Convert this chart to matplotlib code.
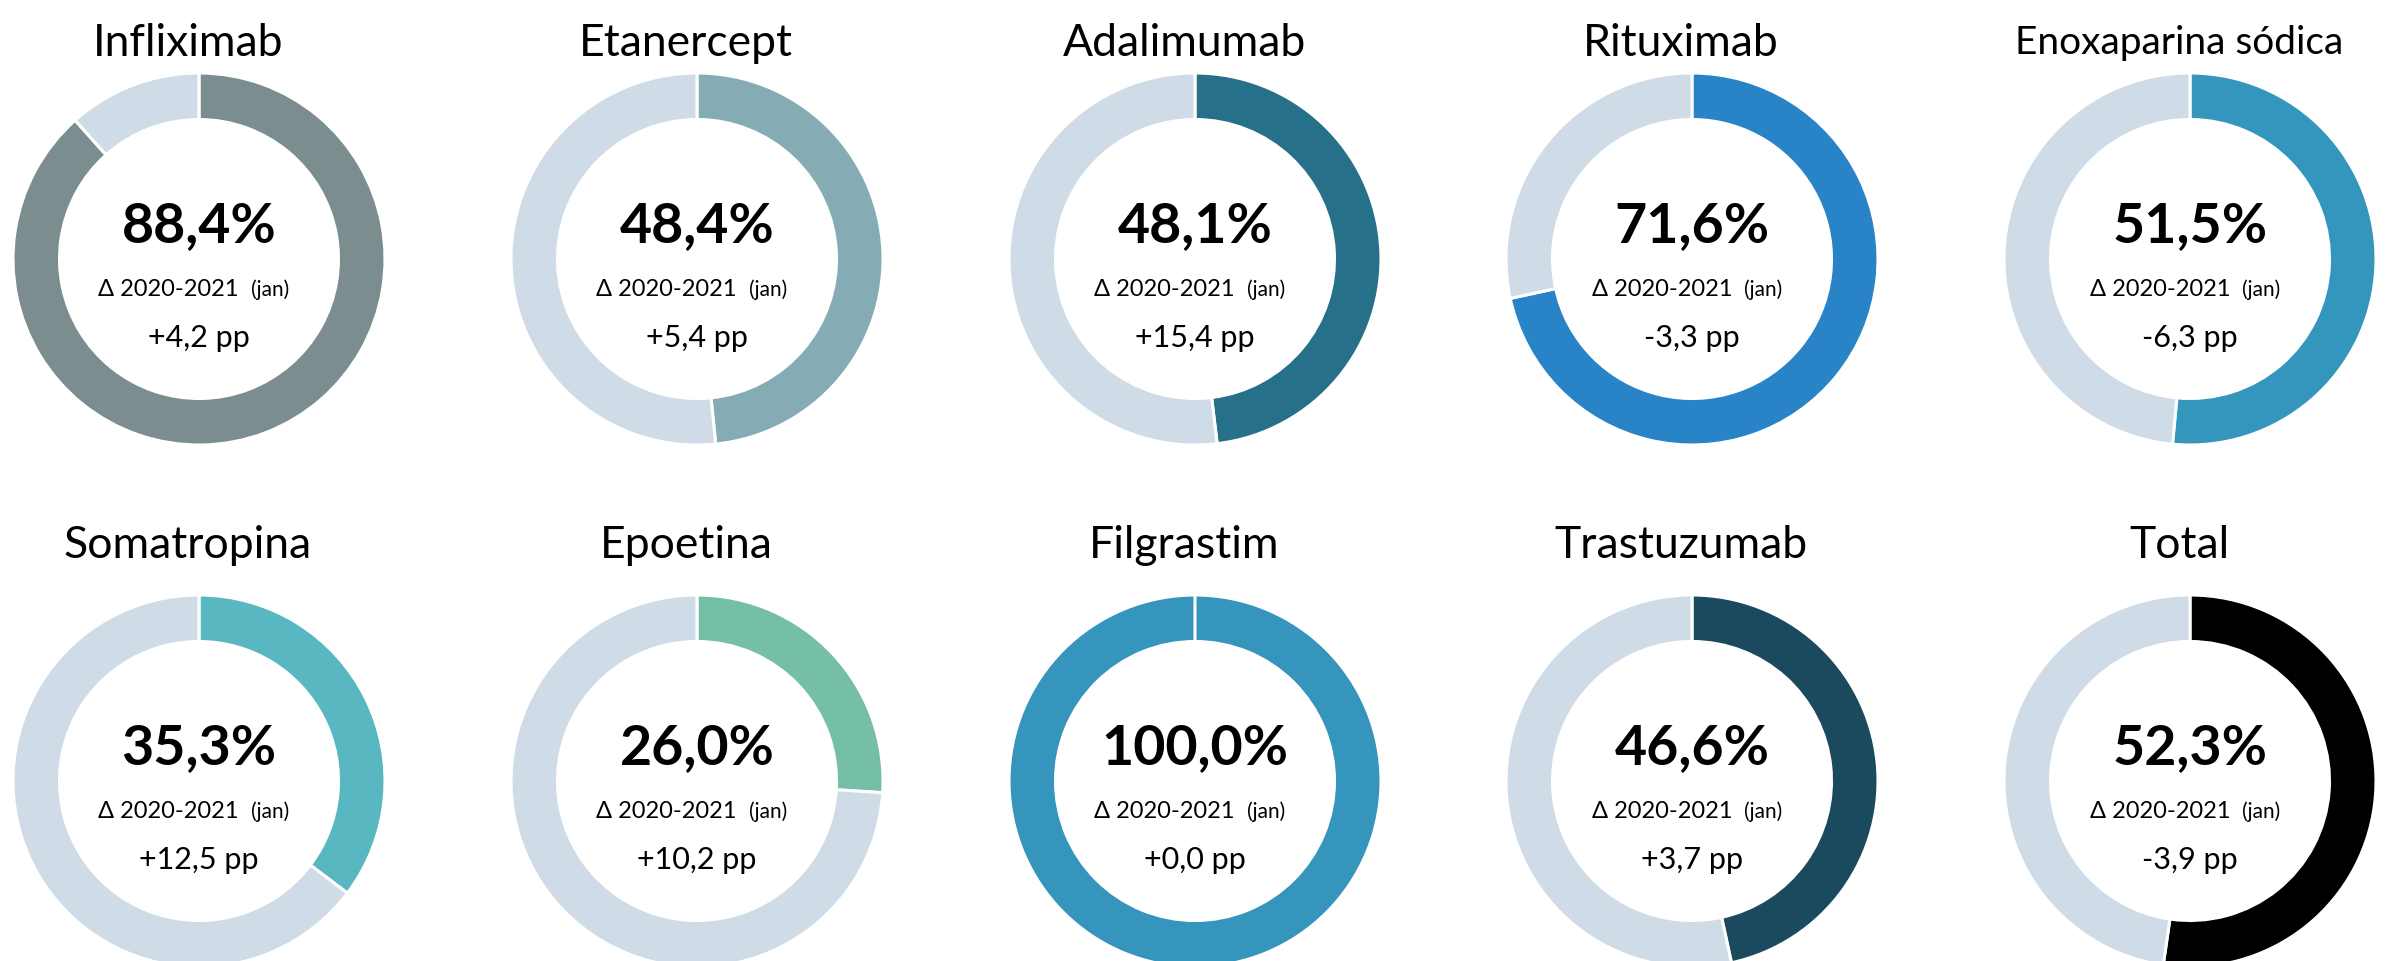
import matplotlib
matplotlib.use("Agg")
import matplotlib.pyplot as plt

plt.rcParams['font.family'] = ['Lato', 'DejaVu Sans']

names = ["Infliximab", "Etanercept", "Adalimumab", "Rituximab", "Enoxaparina sódica",
         "Somatropina", "Epoetina", "Filgrastim", "Trastuzumab", "Total"]
shares = [88.4, 48.4, 48.1, 71.6, 51.5, 35.3, 26.0, 100.0, 46.6, 52.3]
share_labels = ["88,4%", "48,4%", "48,1%", "71,6%", "51,5%", "35,3%", "26,0%", "100,0%", "46,6%", "52,3%"]
delta_labels = ["+4,2 pp", "+5,4 pp", "+15,4 pp", "-3,3 pp", "-6,3 pp",
                "+12,5 pp", "+10,2 pp", "+0,0 pp", "+3,7 pp", "-3,9 pp"]
colors = ["#7B8D8E", "#85ACB5", "#27708A", "#2884C6", "#3596BD",
          "#59B7C1", "#75BFA7", "#3695BC", "#1B4A5F", "#000000"]
rest_color = "#CFDBE6"

W, H = 2390, 962
fig = plt.figure(figsize=(W / 100, H / 100), dpi=100)
fig.patch.set_facecolor("white")

R = 186
col_x = [199, 697, 1195, 1692, 2190]
row_y = [260, 782]
title_y = [43, 546]

for i, name in enumerate(names):
    r, c = divmod(i, 5)
    cx, cy = col_x[c], row_y[r]
    ax = fig.add_axes([(cx - R) / W, (H - cy - R) / H, 2 * R / W, 2 * R / H])
    s = shares[i]
    ax.pie([s, 100 - s], colors=[colors[i], rest_color], startangle=90, counterclock=False,
           radius=1.0, wedgeprops=dict(width=0.25, edgecolor="white", linewidth=2.2))
    ax.set_xlim(-1, 1)
    ax.set_ylim(-1, 1)
    ax.set_aspect("equal")
    ax.axis("off")
    ax.text(0, 34 / R, share_labels[i], ha="center", va="center", fontsize=40,
            fontweight="bold", color="black")
    ax.text(40 / R, -30 / R, "Δ 2020-2021", ha="right", va="center", fontsize=17, color="black")
    ax.text(52 / R, -30 / R, "(jan)", ha="left", va="center", fontsize=15, color="black")
    ax.text(0, -78 / R, delta_labels[i], ha="center", va="center", fontsize=22, color="black")
    fs = 28 if len(name) > 12 else 32
    fig.text((cx - 11) / W, 1 - title_y[r] / H, name, ha="center", va="center", fontsize=fs, color="black")

fig.savefig("out.png", dpi=100, facecolor="white")
